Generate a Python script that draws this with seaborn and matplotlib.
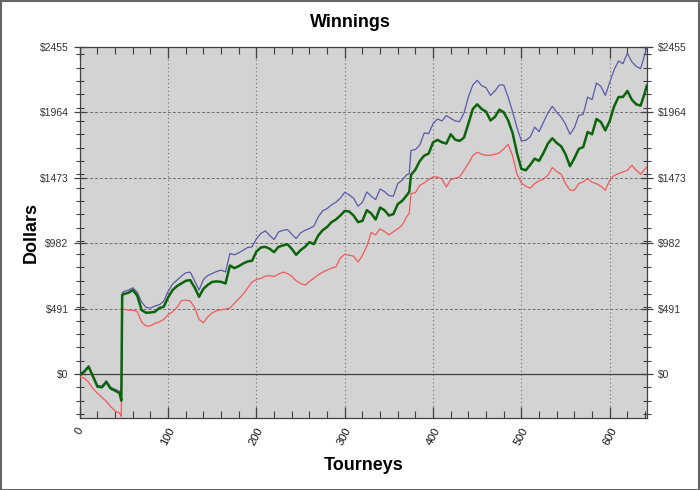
import numpy as np
import pandas as pd
import matplotlib
matplotlib.use("Agg")
import matplotlib.pyplot as plt
import matplotlib.ticker as mtick
from matplotlib.patches import Rectangle
import seaborn as sns

# %%
tourneys = (list(range(0, 50, 5)) + [47, 48] + list(range(50, 375, 5)) + [373]
            + list(range(375, 645, 5)) + [642])
tourneys = sorted(tourneys)

green = [-7, 17, 55, -20, -95, -100, -60, -110, -125, -143, -200, 592,
         600, 610, 630, 590, 480, 460, 462, 467, 495, 505, 575, 630, 660, 680, 700, 705,
         650, 580, 640, 670, 692, 695, 692, 680, 815, 795, 810, 830, 845, 850, 920, 950,
         955, 940, 915, 955, 965, 975, 940, 895, 930, 955, 990, 975, 1040, 1080, 1104,
         1140, 1160, 1190, 1225, 1220, 1190, 1140, 1150, 1230, 1205, 1160, 1250, 1230,
         1190, 1200, 1275, 1300, 1340, 1367,
         1495, 1535, 1600, 1640, 1655, 1740, 1758, 1740, 1730, 1800, 1760, 1750, 1775,
         1880, 1990, 2025, 1990, 1970, 1904, 1930, 1985, 1965, 1904, 1810, 1660, 1540,
         1530, 1570, 1617, 1600, 1660, 1730, 1770, 1735, 1710, 1650, 1560, 1620, 1690,
         1704, 1817, 1800, 1915, 1892, 1829, 1900, 2010, 2080, 2080, 2125, 2060, 2025,
         2015, 2117, 2167]

blue = [0, 25, 62, -10, -85, -90, -50, -100, -115, -130, -190, 610,
        620, 630, 647, 615, 540, 500, 495, 510, 520, 545, 620, 675, 705, 735, 760, 765,
        700, 630, 710, 740, 755, 770, 780, 767, 905, 895, 910, 930, 950, 955, 1015, 1055,
        1075, 1040, 1010, 1067, 1078, 1085, 1050, 1017, 1060, 1079, 1092, 1110, 1180,
        1225, 1242, 1270, 1290, 1320, 1365, 1345, 1320, 1260, 1290, 1367, 1335, 1310,
        1390, 1370, 1340, 1335, 1430, 1455, 1495, 1504,
        1679, 1685, 1720, 1810, 1805, 1880, 1915, 1900, 1940, 1920, 1900, 1895, 1960,
        2080, 2170, 2205, 2165, 2150, 2092, 2125, 2170, 2170, 2079, 1970, 1850, 1750,
        1755, 1780, 1854, 1820, 1890, 1960, 2010, 1965, 1929, 1875, 1800, 1850, 1942,
        1950, 2079, 2060, 2185, 2160, 2092, 2190, 2285, 2350, 2330, 2409, 2345, 2310,
        2292, 2404, 2454]

red = [-20, -30, -62, -110, -145, -175, -205, -245, -278, -292, -320, 492,
       485, 480, 478, 470, 390, 360, 362, 380, 390, 410, 445, 467, 500, 550, 555, 548,
       500, 410, 385, 430, 460, 475, 482, 488, 495, 530, 565, 600, 645, 690, 710, 717,
       735, 738, 732, 750, 765, 755, 735, 700, 680, 667, 695, 720, 745, 765, 780,
       795, 805, 870, 900, 892, 885, 840, 890, 960, 1062, 1045, 1090, 1070,
       1045, 1067, 1090, 1117, 1180, 1204,
       1354, 1362, 1417, 1435, 1460, 1479, 1480, 1465, 1404, 1460, 1470, 1479, 1530,
       1580, 1640, 1665, 1650, 1642, 1642, 1650, 1660, 1690, 1725, 1640, 1500, 1435,
       1410, 1395, 1430, 1450, 1462, 1492, 1550, 1520, 1500, 1430, 1380, 1380, 1430,
       1442, 1467, 1440, 1429, 1410, 1380, 1454, 1490, 1505, 1517, 1530, 1567, 1530,
       1500, 1540, 1554]

y_ticks = [0, 491, 982, 1473, 1964, 2455]
x_ticks = [0, 100, 200, 300, 400, 500, 600]

assert len(tourneys) == len(green) == len(blue) == len(red)

# %%
sns.set_theme(style="white")
plt.rcParams['font.family'] = ['Liberation Sans', 'DejaVu Sans']

fig = plt.figure(figsize=(7, 4.9), dpi=100)
ax = fig.add_axes([0.114, 0.147, 0.81, 0.757])
ax.set_facecolor("#d3d3d3")

ax.axhline(0, color="#404040", linewidth=0.9, zorder=2)

sns.lineplot(x=tourneys, y=blue, color="#5a5aaa", linewidth=0.9, ax=ax, zorder=3)
sns.lineplot(x=tourneys, y=red, color="#f05a5a", linewidth=0.9, ax=ax, zorder=3)
sns.lineplot(x=tourneys, y=green, color="#0a640a", linewidth=1.8, ax=ax, zorder=4)

ax.set_xlim(0, 642)
ax.set_ylim(-330, 2455)

ax.set_xticks(x_ticks)
ax.set_yticks(y_ticks)
ax.xaxis.set_minor_locator(mtick.MultipleLocator(20))
ax.yaxis.set_minor_locator(mtick.MultipleLocator(100))
ax.yaxis.set_major_formatter(mtick.FuncFormatter(lambda v, p: f"${v:.0f}"))

ax.grid(True, axis="y", which="major", color="#707070", linestyle=(0, (3, 2)), linewidth=0.7)
ax.grid(True, axis="x", which="major", color="#707070", linestyle=(0, (1, 2.5)), linewidth=0.8)

for s in ax.spines.values():
    s.set_color("#404040")
    s.set_linewidth(0.9)

ax.tick_params(axis="y", which="both", direction="inout", left=True, right=True,
               labelleft=True, labelright=True, colors="#404040", labelcolor="#333333",
               labelsize=7.5)
ax.tick_params(axis="y", which="major", length=9, width=0.9)
ax.tick_params(axis="y", which="minor", length=6, width=0.8)
ax.tick_params(axis="x", which="both", direction="in", top=True, bottom=True,
               colors="#404040", labelcolor="#111111", labelsize=8)
ax.tick_params(axis="x", which="major", length=8, width=0.9, pad=6)
ax.tick_params(axis="x", which="minor", length=5, width=0.8)
for lab in ax.get_xticklabels():
    lab.set_rotation(62)
    lab.set_ha("center")
    lab.set_va("top")

fig.text(0.5, 0.955, "Winnings", ha="center", va="center", fontsize=13,
         fontweight="bold", color="black")
fig.text(0.045, 0.525, "Dollars", ha="center", va="center", rotation=90,
         fontsize=13, fontweight="bold", color="black")
fig.text(0.519, 0.05, "Tourneys", ha="center", va="center", fontsize=13,
         fontweight="bold", color="black")

fig.patches.append(Rectangle((0.001, 0.001), 0.997, 0.997, transform=fig.transFigure,
                             fill=False, edgecolor="#666666", linewidth=1.5))

fig.savefig("out.png", dpi=100)
